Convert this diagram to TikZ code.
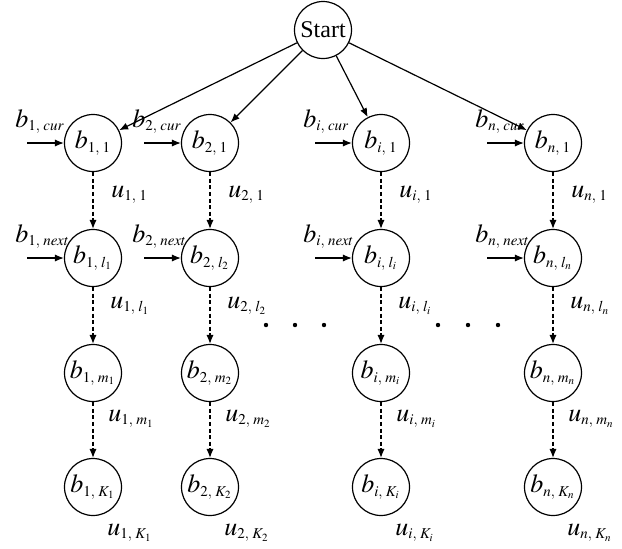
\documentclass[tikz,border=0pt]{standalone}
\usepackage{mathptmx}
\usepackage{fontspec}
\setmainfont{Liberation Serif}
\DeclareMathSizes{12}{13}{7.5}{5.5}
\usetikzlibrary{arrows.meta,positioning}
\tikzset{
      statebox/.style={
        circle,
        draw=black,
        line width=0.6pt,
        minimum size=28.5pt,
        inner sep=0pt,
        font=\fontsize{12}{14}\selectfont
      },
      textlabel/.style={
        anchor=base west,
        inner sep=0pt,
        font=\fontsize{12}{14}\selectfont
      },
      flow/.style={-{Latex[length=4.5pt,width=3.6pt]}, line width=0.6pt},
      dashflow/.style={flow, dash pattern=on 2pt off 1.3pt}
    }
\begin{document}
\begin{tikzpicture}[x=0.5pt,y=-0.5pt]
    \useasboundingbox (0,0) rectangle (622,548);
    \node[statebox] (start) at (323,30) {Start};
    \foreach \col/\xc in {1/93, 2/210, i/381, n/553} {
      \node[statebox] (b\col-1) at (\xc,143) {$b_{\col,\;1}$};
      \node[statebox] (b\col-l) at (\xc,258) {$b_{\col,\;l_{\col}}$};
      \node[statebox] (b\col-m) at (\xc,373) {$b_{\col,\;m_{\col}}$};
      \node[statebox] (b\col-K) at (\xc,487) {$b_{\col,\;K_{\col}}$};
      \node[textlabel] (u\col-1) at (\xc+18,197) {$u_{\col,\;1}$};
      \node[textlabel] (u\col-l) at (\xc+17,308) {$u_{\col,\;l_{\col}}$};
      \node[textlabel] (u\col-m) at (\xc+15,421) {$u_{\col,\;m_{\col}}$};
      \node[textlabel] (u\col-K) at (\xc+14,535) {$u_{\col,\;K_{\col}}$};
      \coordinate (in\col-1) at (\xc-66,143);
      \coordinate (in\col-l) at (\xc-66,258);
      \node[textlabel] (cur\col) at (\xc-78,127) {$b_{\col,\;cur}$};
      \node[textlabel] (next\col) at (\xc-78,242) {$b_{\col,\;next}$};
      \draw[flow] (start) -- (b\col-1);
      \draw[flow] (in\col-1) -- (b\col-1);
      \draw[flow] (in\col-l) -- (b\col-l);
      \draw[dashflow] (b\col-1) -- (b\col-l);
      \draw[dashflow] (b\col-l) -- (b\col-m);
      \draw[dashflow] (b\col-m) -- (b\col-K);
    }
    % dots between the columns
    \foreach \d in {266,295,324,438,468,498}
      \fill (\d,325) circle (1.1pt);
    \end{tikzpicture}
\end{document}
